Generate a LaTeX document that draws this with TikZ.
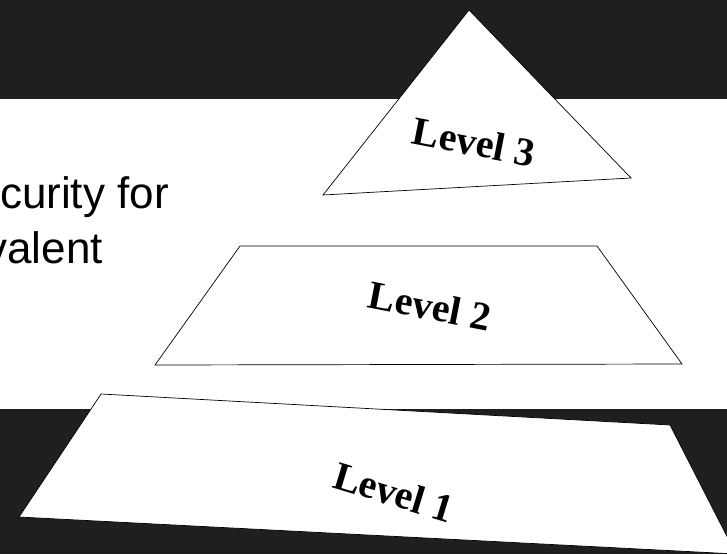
\documentclass[tikz,border=0pt]{standalone}
\usepackage{fontspec}
\setmainfont{Liberation Sans}
\newfontfamily\serifbold{Liberation Serif}
\tikzset{
  band/.style={fill=black!88, draw=none},
  slab/.style={fill=white, draw=black, line width=0.7pt, line join=miter},
  lvl/.style={font=\serifbold\bfseries\fontsize{40}{40}\selectfont, inner sep=0pt},
  body/.style={font=\fontsize{44}{50}\selectfont, inner sep=0pt}
}
\begin{document}
\begin{tikzpicture}[x=1pt,y=-1pt]
  \clip (0,0) rectangle (727,554);
  \fill[white] (0,0) rectangle (727,554);
  % dark bands
  \fill[band] (0,0) rectangle (727,99);
  \fill[band] (0,409) rectangle (727,554);
  % body text (cut at the left edge)
  \node[body, anchor=base east] (t1) at (169,208) {curity for};
  \node[body, anchor=base east] (t2) at (103,263) {valent};
  % level 3 triangle
  \draw[slab] (469,10) -- (631,178) -- (323,195) -- cycle;
  % level 2 trapezoid
  \draw[slab] (240,246) -- (597,246) -- (682,364) -- (155,365) -- cycle;
  % level 1 slab
  \draw[slab] (101,394) -- (670,425) -- (736,554) -- (19,517) -- cycle;
  % labels
  \node[lvl, rotate=-11] (l3) at (474,142) {Level 3};
  \node[lvl, rotate=-11] (l2) at (430,306) {Level 2};
  \node[lvl, rotate=-17] (l1) at (394,492) {Level 1};
\end{tikzpicture}
\end{document}
